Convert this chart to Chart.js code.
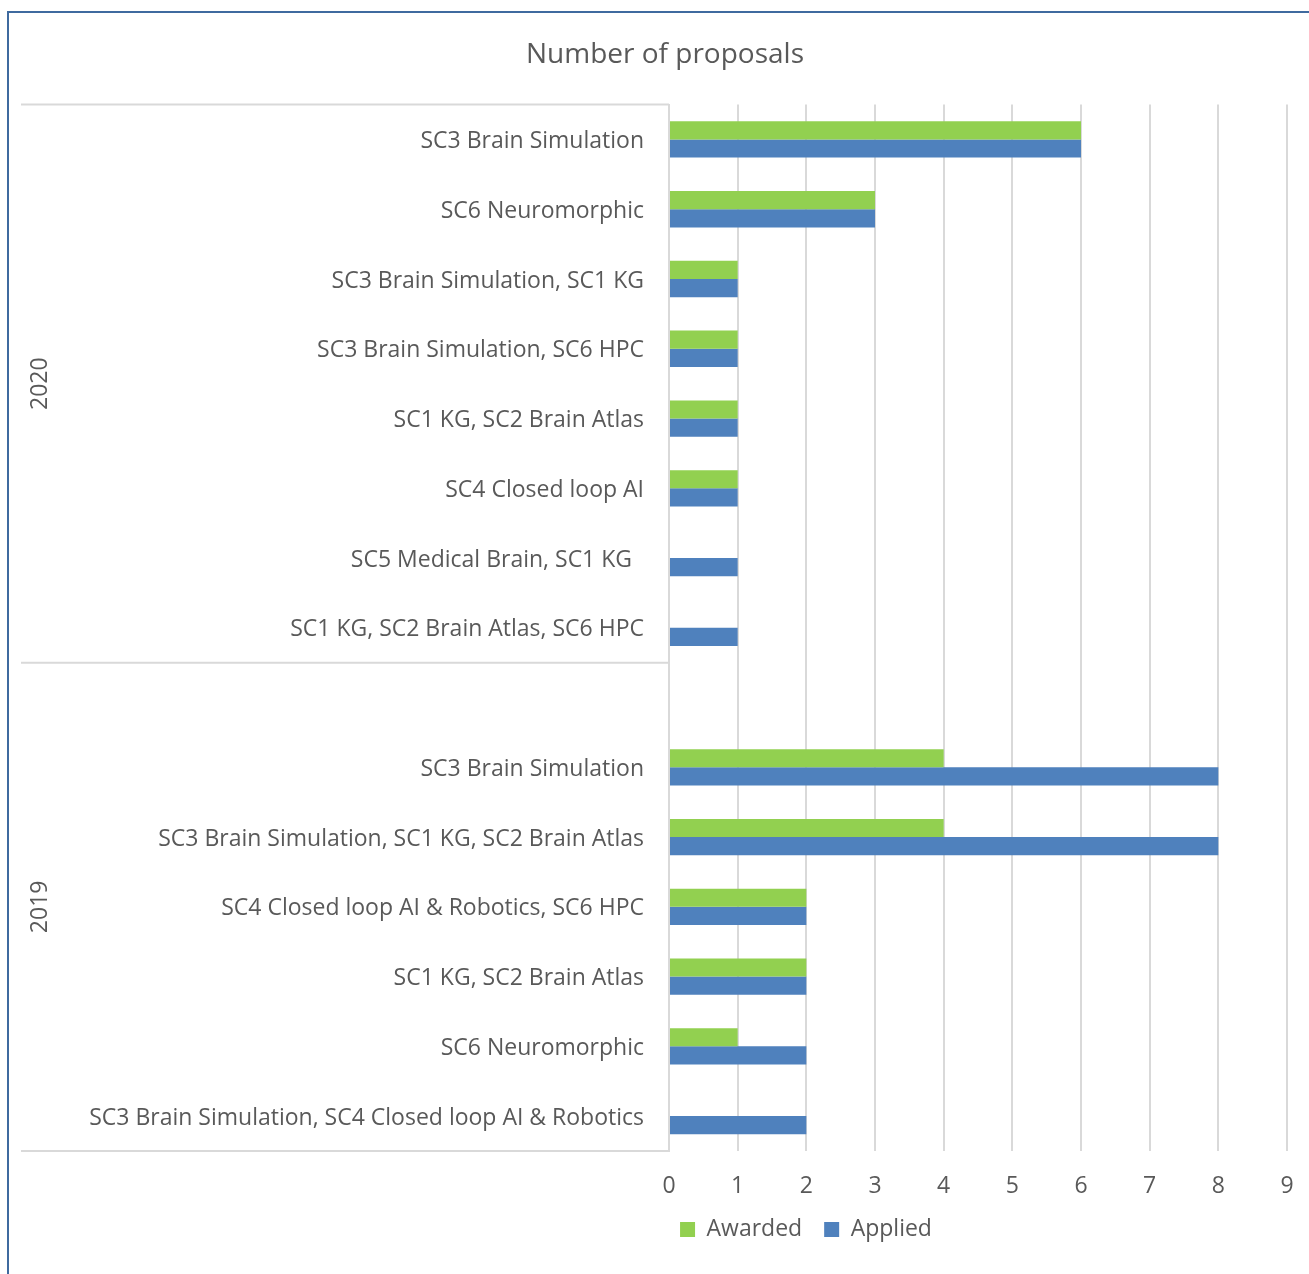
<!DOCTYPE html>
<html>
<head>
<meta charset="utf-8">
<script src="https://cdn.jsdelivr.net/npm/chart.js@4/dist/chart.umd.min.js"></script>
<style>
  html, body { margin: 0; padding: 0; background: #fff; }
  #wrap { position: relative; width: 1309px; height: 1274px; }
  #frame { position: absolute; left: 7px; top: 11px; right: 0; bottom: 0;
           border-top: 2.5px solid #3F6A9F; border-left: 2.5px solid #3F6A9F; pointer-events: none; }
</style>
</head>
<body>
<div id="wrap">
  <canvas id="c" width="1309" height="1274"></canvas>
  <div id="frame"></div>
</div>
<script>
const categories = [
  "SC3 Brain Simulation",
  "SC6 Neuromorphic",
  "SC3 Brain Simulation, SC1 KG",
  "SC3 Brain Simulation, SC6 HPC",
  "SC1 KG, SC2 Brain Atlas",
  "SC4 Closed loop AI",
  "SC5 Medical Brain, SC1 KG  ",
  "SC1 KG, SC2 Brain Atlas, SC6 HPC",
  "",
  "SC3 Brain Simulation",
  "SC3 Brain Simulation, SC1 KG, SC2 Brain Atlas",
  "SC4 Closed loop AI & Robotics, SC6 HPC",
  "SC1 KG, SC2 Brain Atlas",
  "SC6 Neuromorphic",
  "SC3 Brain Simulation, SC4 Closed loop AI & Robotics"
];
const awarded = [6, 3, 1, 1, 1, 1, 0, 0, null, 4, 4, 2, 2, 1, 0];
const applied = [6, 3, 1, 1, 1, 1, 1, 1, null, 8, 8, 2, 2, 2, 2];
const groupNames = ["2020", "2019"];
const groupStart = [0, 8];   // first category index of each group
const groupEnd = [7, 14];    // last category index of each group
const xTicks = [0, 1, 2, 3, 4, 5, 6, 7, 8, 9];

const FONT = "'Open Sans', Lato, sans-serif";
const TXT = "#595959";
const GRID = "#D9D9D9";

const groupPlugin = {
  id: 'groups',
  afterDraw(chart) {
    const ctx = chart.ctx;
    const y = chart.scales.y;
    const area = chart.chartArea;
    const half = (y.getPixelForValue(1) - y.getPixelForValue(0)) / 2;
    ctx.save();
    ctx.strokeStyle = GRID;
    ctx.lineWidth = 2;
    const bounds = new Set();
    groupStart.forEach(i => bounds.add(y.getPixelForValue(i) - half));
    groupEnd.forEach(i => bounds.add(y.getPixelForValue(i) + half));
    bounds.forEach(py => {
      ctx.beginPath();
      ctx.moveTo(21, py);
      ctx.lineTo(area.left, py);
      ctx.stroke();
    });
    ctx.fillStyle = TXT;
    ctx.font = "23px " + FONT;
    ctx.textAlign = 'center';
    ctx.textBaseline = 'middle';
    groupNames.forEach((g, k) => {
      const top = y.getPixelForValue(groupStart[k]) - half;
      const bot = y.getPixelForValue(groupEnd[k]) + half;
      ctx.save();
      ctx.translate(40, (top + bot) / 2);
      ctx.rotate(-Math.PI / 2);
      ctx.fillText(g, 0, 0);
      ctx.restore();
    });
    ctx.restore();
  }
};

const legendShift = {
  id: 'legendShift',
  beforeDraw(chart) {
    const lg = chart.legend;
    const target = 806;
    const cur = (lg.left + lg.right) / 2;
    const d = target - cur;
    lg.left += d; lg.right += d;
  }
};

new Chart(document.getElementById('c'), {
  type: 'bar',
  data: {
    labels: categories,
    datasets: [
      { label: 'Awarded', data: awarded, backgroundColor: '#92D050', borderWidth: 0 },
      { label: 'Applied', data: applied, backgroundColor: '#4F81BD', borderWidth: 0 }
    ]
  },
  options: {
    indexAxis: 'y',
    responsive: false,
    animation: false,
    events: [],
    layout: { padding: { left: 43, right: 22, top: 0, bottom: 23 } },
    datasets: { bar: { categoryPercentage: 0.52, barPercentage: 1.0 } },
    scales: {
      y: {
        type: 'category',
        grid: { display: false, drawTicks: false },
        border: { display: true, color: GRID, width: 2 },
        ticks: { color: TXT, font: { family: FONT, size: 23 }, padding: 25, autoSkip: false, labelOffset: 2 },
        afterFit(s) { s.width = 669 - 43; }
      },
      x: {
        min: 0, max: 9,
        afterBuildTicks(s) { s.ticks = xTicks.map(v => ({ value: v })); },
        grid: { color: GRID, lineWidth: 2, drawTicks: false },
        border: { display: false },
        ticks: { color: TXT, font: { family: FONT, size: 23 }, padding: 22, stepSize: 1 },
        afterFit(s) { s.height = 45; s.paddingLeft = 0; s.paddingRight = 0; }
      }
    },
    plugins: {
      title: {
        display: true, text: 'Number of proposals', color: TXT,
        font: { family: FONT, size: 28, weight: 'normal' },
        padding: { top: 38, bottom: 33 }
      },
      legend: {
        position: 'bottom',
        labels: { color: TXT, font: { family: FONT, size: 23 }, boxWidth: 15, boxHeight: 15, padding: 22 }
      },
      tooltip: { enabled: false }
    }
  },
  plugins: [groupPlugin, legendShift]
});
</script>
</body>
</html>
